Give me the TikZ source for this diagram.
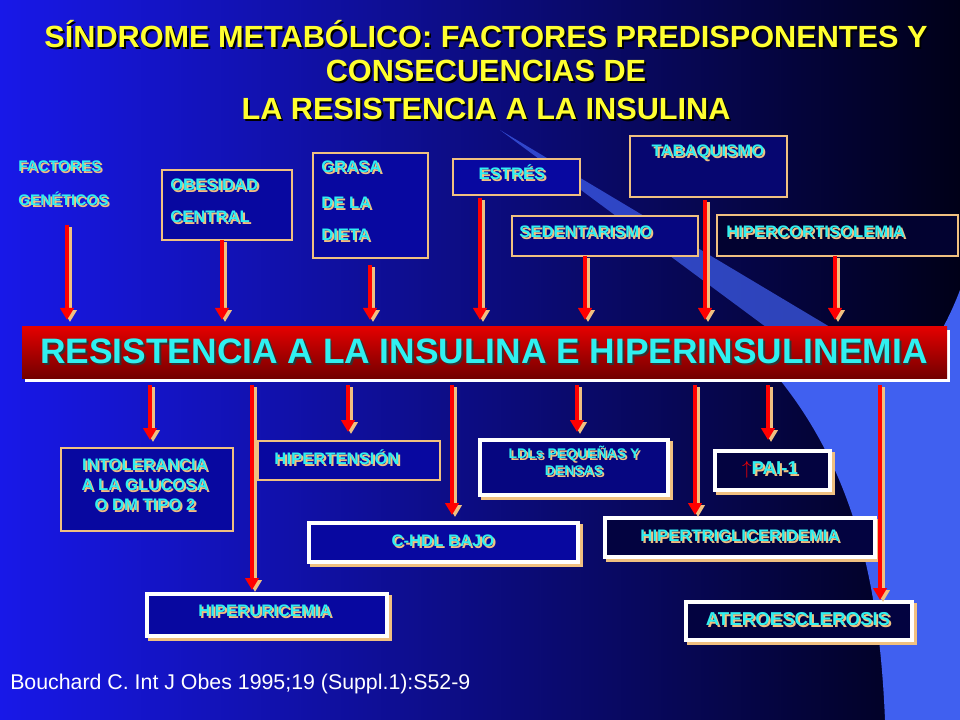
\documentclass[tikz,border=0pt]{standalone}
\usepackage{fontspec}
\usetikzlibrary{arrows.meta}
\setmainfont{Liberation Sans}
\definecolor{bgl}{HTML}{1818E8}
\definecolor{bgr}{HTML}{000018}
\definecolor{tanc}{HTML}{F0C080}
\definecolor{cyt}{HTML}{30F0F0}
\definecolor{yel}{HTML}{FFFF30}
\definecolor{sky}{HTML}{4060F0}
\definecolor{boxin}{HTML}{0808A0}
\newcommand{\shtxt}[3]{\makebox[0pt][l]{\hspace{1.4pt}\raisebox{-1.4pt}{\color{#2}#3}}{\color{#1}#3}}
\newcommand{\cy}[1]{\shtxt{cyt}{tanc}{#1}}
\begin{document}
\begin{tikzpicture}[x=0.75pt,y=-0.75pt,
  lbl/.style={font=\bfseries\fontsize{12.5}{15}\selectfont,inner sep=0pt,align=center},
  topbox/.style={draw=tanc,line width=2.2pt},
  lowbox/.style={draw=white,line width=3pt},
  arr/.style={line width=3.2pt,-{Triangle[length=9pt,width=10pt]}}]
\useasboundingbox (0,0) rectangle (960,720);
\shade[left color=bgl,right color=bgr,shading angle=90] (0,0) rectangle (960,720);
\fill[sky,opacity=0.7] (500,130) -- (835,330) -- (770,330) -- cycle;
\fill[sky] (780,380) .. controls (860,480) and (880,600) .. (885,720) -- (960,720) -- (960,290) .. controls (945,330) and (920,370) .. (900,380) -- cycle;
% title
\foreach \t/\y in {{SÍNDROME METABÓLICO: FACTORES PREDISPONENTES Y}/35,{CONSECUENCIAS DE}/72,{LA RESISTENCIA A LA INSULINA}/110}
  \node[font=\bfseries\fontsize{23}{27}\selectfont,inner sep=0pt] (t\y) at (486,\y) {\shtxt{yel}{black}{\t}};
% factors
\node[lbl,anchor=west,font=\bfseries\fontsize{11.5}{14}\selectfont] (fg1) at (18,167) {\cy{FACTORES}};
\node[lbl,anchor=west,font=\bfseries\fontsize{11.5}{14}\selectfont] (fg2) at (18,200) {\cy{GENÉTICOS}};
\coordinate (fga) at (67,225);
\draw[topbox,fill=boxin] (162,170) rectangle (292,240); \node[lbl,anchor=west] (ob1) at (170,186){\cy{OBESIDAD}}; \node[lbl,anchor=west] (ob2) at (170,218){\cy{CENTRAL}};
\draw[topbox,fill=boxin] (313,153) rectangle (428,258); \node[lbl,anchor=west] (gr1) at (321,168){\cy{GRASA}}; \node[lbl,anchor=west] (gr2) at (321,204){\cy{DE LA}}; \node[lbl,anchor=west] (gr3) at (321,236){\cy{DIETA}};
\draw[topbox,fill=boxin] (453,159) rectangle (580,195); \node[lbl] (es) at (512,173){\cy{ESTRÉS}};
\draw[topbox,fill=boxin!70!black] (630,136) rectangle (787,197); \node[lbl] (tb) at (708,153){\cy{TABAQUISMO}};
\draw[topbox,fill=boxin!80!black] (512,216) rectangle (698,256); \node[lbl,anchor=west] (se) at (519,233){\cy{SEDENTARISMO}};
\draw[topbox,fill=boxin!30!black] (717,215) rectangle (958,256); \node[lbl,anchor=west] (hc) at (726,233){\cy{HIPERCORTISOLEMIA}};
% banner
\fill[white] (25,330) rectangle (950,382);
\shade[top color=red!90!black,bottom color=red!45!black] (22,326) rectangle (947,378);
\node[font=\bfseries\fontsize{26.5}{30}\selectfont,inner sep=0pt] (ban) at (484,352) {\shtxt{cyt}{black!80}{RESISTENCIA A LA INSULINA E HIPERINSULINEMIA}};
% top arrows
\foreach \x/\a in {67/225,222/240,370/265,480/198,705/200,585/256,835/256}{
  \draw[arr,tanc] (\x+3,\a+2) -- (\x+3,322);
  \draw[arr,red] (\x,\a) -- (\x,320);}
% lower boxes
\draw[topbox,fill=boxin] (61,448) rectangle (233,531);
\node[lbl] (in) at (145,486){\cy{INTOLERANCIA}\\[0pt]\cy{A LA GLUCOSA}\\[0pt]\cy{O DM TIPO 2}};
\draw[topbox,fill=boxin] (258,441) rectangle (440,480); \node[lbl] (ht) at (337,458){\cy{HIPERTENSIÓN}};
\draw[tanc,line width=3pt] (483,443) rectangle (671,498); \draw[lowbox,fill=boxin!80!black] (480,440) rectangle (668,495);
\node[lbl,font=\bfseries\fontsize{10.5}{12.5}\selectfont] (ld) at (574,462){\cy{LDLs PEQUEÑAS Y}\\\cy{DENSAS}};
\draw[tanc,line width=3pt] (718,454) rectangle (833,493); \draw[lowbox,fill=boxin!40!black] (715,451) rectangle (830,490);
\node[lbl,font=\bfseries\fontsize{14}{16}\selectfont] (pa) at (770,470){{\color{red}$\uparrow$}\cy{PAI-1}};
\draw[tanc,line width=3pt] (312,526) rectangle (581,565); \draw[lowbox,fill=boxin] (309,523) rectangle (578,562); \node[lbl] (hd) at (443,542){\cy{C-HDL BAJO}};
\draw[tanc,line width=3pt] (608,521) rectangle (878,560); \draw[lowbox,fill=boxin!40!black] (605,518) rectangle (875,557); \node[lbl] (tg) at (740,537){\cy{HIPERTRIGLICERIDEMIA}};
\draw[tanc,line width=3pt] (150,597) rectangle (390,639); \draw[lowbox,fill=boxin] (147,594) rectangle (387,636); \node[lbl] (hu) at (265,612){\cy{HIPERURICEMIA}};
\draw[tanc,line width=3pt] (689,605) rectangle (915,643); \draw[lowbox,fill=boxin!40!black] (686,602) rectangle (912,640); \node[lbl,font=\bfseries\fontsize{14}{16}\selectfont] (at) at (798,620){\cy{ATEROESCLEROSIS}};
% lower arrows
\foreach \x/\b in {150/440,252/590,348/432,452/515,577/432,695/515,768/440,880/600}{
  \draw[arr,tanc] (\x+3,387) -- (\x+3,\b+2);
  \draw[arr,red] (\x,385) -- (\x,\b);}
\node[anchor=west,text=white,font=\fontsize{16}{19}\selectfont,inner sep=0pt] (ref) at (10,684) {Bouchard C. Int J Obes 1995;19 (Suppl.1):S52-9};
\end{tikzpicture}
\end{document}
